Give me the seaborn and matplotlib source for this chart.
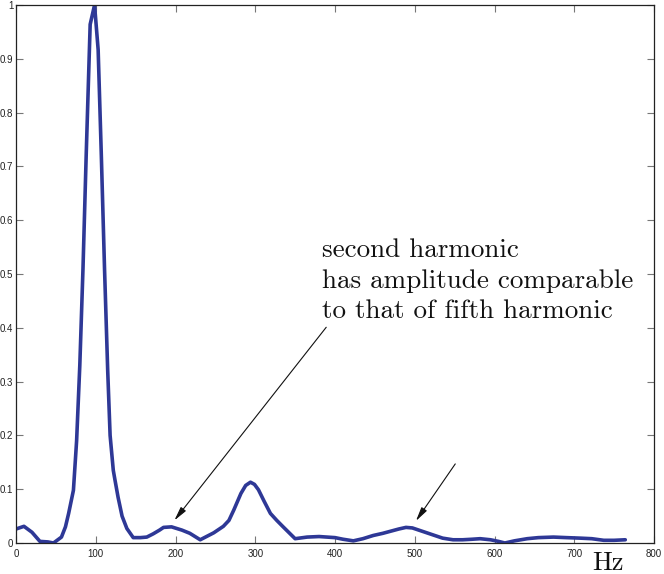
import numpy as np
import pandas as pd
import matplotlib
matplotlib.use("Agg")
import matplotlib.pyplot as plt
import seaborn as sns

# ---- data ----
freq_hz = [0, 10, 20, 30, 40, 47, 57, 62, 66, 72, 76, 80, 84, 88, 93, 98.5,
           103, 107, 111, 115, 118, 122, 124, 128, 133, 139, 147, 156, 164,
           172, 180, 185, 195, 208, 218, 231, 248, 260, 267, 273, 282, 288,
           294, 299, 304, 311, 319, 327, 335, 350, 365, 380, 390, 400, 410,
           423, 435, 448, 460, 470, 480, 489, 497, 505, 515, 525, 535, 548,
           560, 572, 582, 595, 605, 613, 625, 641, 655, 674, 690, 708, 722,
           737, 750, 764]
amplitude = [0.026, 0.031, 0.020, 0.003, 0.002, 0.000, 0.011, 0.030, 0.055,
             0.098, 0.19, 0.33, 0.51, 0.72, 0.964, 1.0,
             0.917, 0.72, 0.51, 0.32, 0.2, 0.135, 0.118, 0.085, 0.05, 0.027,
             0.010, 0.010, 0.011, 0.017, 0.024, 0.029, 0.030, 0.024, 0.018,
             0.006, 0.019, 0.031, 0.042, 0.061, 0.092, 0.107, 0.113, 0.109,
             0.099, 0.078, 0.055, 0.042, 0.030, 0.008, 0.011, 0.012, 0.011,
             0.010, 0.007, 0.004, 0.008, 0.014, 0.018, 0.022, 0.026, 0.029,
             0.028, 0.024, 0.019, 0.014, 0.009, 0.006, 0.006, 0.007, 0.008,
             0.006, 0.003, 0.000, 0.004, 0.008, 0.010, 0.011, 0.010, 0.009,
             0.008, 0.005, 0.005, 0.006]

x_ticks = [0, 100, 200, 300, 400, 500, 600, 700, 800]
x_tick_labels = ["0", "100", "200", "300", "400", "500", "600", "700", "800"]
y_ticks = [0, 0.1, 0.2, 0.3, 0.4, 0.5, 0.6, 0.7, 0.8, 0.9, 1.0]
y_tick_labels = ["0", "0.1", "0.2", "0.3", "0.4", "0.5", "0.6", "0.7", "0.8", "0.9", "1"]

note_text = "second harmonic\nhas amplitude comparable\nto that of fifth harmonic"
arrow_heads = [(198.6, 0.042), (501.5, 0.041)]
arrow_tails = [(389.0, 0.401), (550.8, 0.147)]
axis_label = "Hz"

df = pd.DataFrame({"freq": freq_hz, "amp": amplitude})

sns.set_theme(style="white")
plt.rcParams["font.family"] = ["Liberation Sans", "DejaVu Sans"]

fig = plt.figure(figsize=(6.64, 5.74), dpi=100)
ax = fig.add_axes([16 / 664, 1 - 543 / 574, (654 - 16) / 664, (543 - 5) / 574])

sns.lineplot(data=df, x="freq", y="amp", ax=ax, color="#2e3896",
             linewidth=2.6, sort=True, estimator=None)

ax.set_xlim(0, 800)
ax.set_ylim(0, 1)
ax.set_xticks(x_ticks)
ax.set_xticklabels(x_tick_labels)
ax.set_yticks(y_ticks)
ax.set_yticklabels(y_tick_labels)
ax.set_xlabel("")
ax.set_ylabel("")

for s in ax.spines.values():
    s.set_visible(True)
    s.set_color("#222222")
    s.set_linewidth(0.9)

ax.tick_params(axis="both", which="both", direction="in", length=5, width=0.8,
               color="#777777", labelsize=7, labelcolor="#222222",
               top=True, right=True, bottom=True, left=True)
ax.tick_params(axis="x", pad=4)
ax.tick_params(axis="y", pad=2)

ax.text(383.6, 0.4176, note_text, fontfamily="cmr10", fontsize=19.5,
        ha="left", va="baseline", linespacing=1.36, color="#111111")

for head, tail in zip(arrow_heads, arrow_tails):
    ax.annotate("", xy=head, xytext=tail,
                arrowprops=dict(arrowstyle="-|>,head_length=0.7,head_width=0.16",
                                color="#111111", lw=0.8, shrinkA=0, shrinkB=0,
                                mutation_scale=12))

ax.text(742.8, -0.051, axis_label, fontfamily="cmr10", fontsize=19,
        ha="center", va="baseline", clip_on=False, color="#111111")

fig.savefig("out.png", dpi=100)
